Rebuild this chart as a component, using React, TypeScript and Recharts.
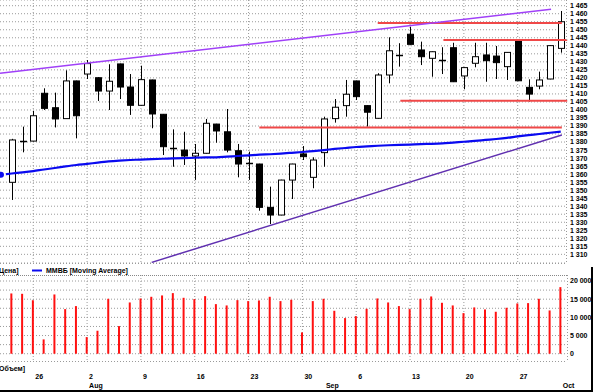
import React from 'react';
import { ComposedChart, Bar, Line, XAxis, YAxis, CartesianGrid, ReferenceLine } from 'recharts';

// Trading days Jul 22 .. Oct 1 (index 0..51)
const opens = [1354.9, 1380.4, 1380.6, 1410.4, 1401.4, 1394.6, 1418.1, 1422.4, 1420.1, 1411.8, 1428.7, 1414.3, 1402.9, 1418.7, 1397.3, 1376.0, 1375.0, 1371.3, 1373.0, 1391.2, 1386.4, 1374.6, 1366.8, 1366.3, 1339.3, 1334.5, 1356.3, 1372.6, 1358.0, 1373.4, 1394.6, 1402.7, 1418.1, 1402.7, 1394.8, 1421.8, 1434.0, 1447.2, 1437.4, 1432.2, 1431.0, 1438.8, 1421.2, 1429.1, 1434.3, 1433.6, 1427.0, 1443.2, 1414.1, 1414.9, 1419.3, 1438.4];
const highs = [1382.0, 1389.6, 1399.4, 1413.5, 1410.8, 1424.7, 1418.3, 1431.1, 1420.5, 1428.5, 1428.9, 1422.4, 1427.6, 1418.9, 1397.5, 1387.9, 1386.4, 1378.8, 1394.4, 1391.4, 1400.6, 1378.8, 1374.0, 1366.5, 1352.2, 1356.5, 1366.5, 1377.5, 1370.5, 1395.8, 1406.8, 1418.7, 1418.3, 1402.9, 1422.9, 1445.3, 1441.6, 1451.9, 1442.6, 1436.5, 1439.1, 1441.9, 1426.6, 1441.9, 1441.9, 1439.9, 1436.1, 1444.0, 1419.1, 1423.9, 1440.3, 1461.7];
const lows = [1343.9, 1373.6, 1380.4, 1400.0, 1389.1, 1394.4, 1382.3, 1419.3, 1405.6, 1400.0, 1406.8, 1396.9, 1402.7, 1388.6, 1371.9, 1364.6, 1365.7, 1356.4, 1372.8, 1379.6, 1373.6, 1358.0, 1356.4, 1337.2, 1328.9, 1334.3, 1344.5, 1368.8, 1351.2, 1364.6, 1392.1, 1395.8, 1406.2, 1389.6, 1394.6, 1416.6, 1427.0, 1440.7, 1428.0, 1420.7, 1422.4, 1417.4, 1412.9, 1426.6, 1417.6, 1419.3, 1418.7, 1418.0, 1405.2, 1412.9, 1419.1, 1435.7];
const closes = [1381.3, 1381.0, 1396.4, 1401.0, 1394.4, 1418.1, 1396.4, 1428.9, 1411.8, 1417.9, 1414.3, 1402.9, 1418.9, 1397.5, 1377.1, 1376.3, 1371.3, 1373.0, 1391.7, 1386.9, 1375.0, 1366.3, 1366.6, 1339.3, 1334.5, 1356.3, 1366.3, 1370.9, 1368.8, 1394.4, 1401.7, 1409.8, 1408.3, 1398.6, 1421.8, 1436.9, 1434.5, 1440.9, 1433.2, 1436.3, 1431.3, 1417.6, 1426.4, 1433.2, 1430.7, 1429.5, 1435.9, 1418.2, 1409.9, 1418.7, 1440.1, 1455.0];
const volumes = [16575, 16480, 14740, 3940, 16300, 12270, 13100, 4580, 6320, 15110, 7600, 14100, 15200, 15660, 16030, 16670, 15380, 15020, 15840, 13640, 13280, 14740, 14470, 14650, 15660, 14470, 14840, 5860, 14470, 15110, 11810, 9800, 10350, 12360, 15200, 14100, 13100, 12270, 15110, 15750, 14010, 13280, 11170, 12730, 12180, 11540, 12640, 13830, 13920, 15110, 11900, 18315];
// moving average, index -1 .. 51
const maStart = -1;
const maValues = [1359.6, 1360.4, 1361.1, 1361.9, 1362.9, 1363.8, 1364.8, 1365.7, 1366.4, 1367.2, 1367.9, 1368.4, 1368.8, 1369.1, 1369.4, 1369.6, 1369.8, 1370.0, 1370.2, 1370.4, 1370.5, 1370.9, 1371.3, 1371.7, 1372.1, 1372.4, 1372.8, 1373.3, 1373.8, 1374.4, 1375.0, 1375.7, 1376.3, 1376.9, 1377.3, 1377.7, 1378.0, 1378.2, 1378.4, 1378.7, 1378.9, 1379.2, 1379.7, 1380.2, 1380.7, 1381.3, 1381.9, 1382.6, 1383.5, 1384.3, 1385.0, 1385.8, 1386.5];

const mondayIdx = [2, 7, 12, 17, 22, 27, 32, 37, 42, 47];
const dayLabels = ['26', '2', '9', '16', '23', '30', '6', '13', '20', '27'];
const monthIdx = [7, 29, 51];
const monthLabels = ['Aug', 'Sep', 'Oct'];
const xDomain = [-1.09, 51.58];

const priceTicks = [1310, 1315, 1320, 1325, 1330, 1335, 1340, 1345, 1350, 1355, 1360, 1365, 1370, 1375, 1380, 1385, 1390, 1395, 1400, 1405, 1410, 1415, 1420, 1425, 1430, 1435, 1440, 1445, 1450, 1455, 1460, 1465];
const priceDomain = [1304.6, 1468.55];
const volumeTicks = [0, 5000, 10000, 15000, 20000];
const volumeGrid = [0, 2500, 5000, 7500, 10000, 12500, 15000, 17500, 20000];
const volumeDomain = [-2000, 21650];

const upperTrend = [{ x: -1.09, y: 1422.9 }, { x: 50.1, y: 1462.75 }];
const lowerTrend = [{ x: 13.0, y: 1305.0 }, { x: 51.1, y: 1384.4 }];
const levelFrom = [34.0, 40.1, 36.1, 23.0];
const levelTo = [51.1, 51.6, 51.6, 51.1];
const levelValues = [1454.2, 1443.6, 1405.8, 1389.0];

const priceData = maValues.map((ma, k) => {
  const i = k + maStart;
  const row: any = { i, ma };
  if (i >= 0) {
    row.range = [lows[i], highs[i]];
    row.open = opens[i];
    row.high = highs[i];
    row.low = lows[i];
    row.close = closes[i];
  }
  return row;
});
const volumeData = volumes.map((v, i) => ({ i, vol: v }));

const FONT = 'Liberation Sans, Arial, sans-serif';

const Candle = (props: any) => {
  const { x, y, width, height, payload } = props;
  if (!payload || payload.open == null || x == null || isNaN(y)) return <g />;
  const top = Math.min(y, y + height);
  const bot = Math.max(y, y + height);
  const span = payload.high - payload.low;
  const ppu = span > 0 ? (bot - top) / span : 0;
  const py = (v: number) => top + (payload.high - v) * ppu;
  const cx = Math.round(x + width / 2) + 0.5;
  const up = payload.close >= payload.open;
  const bTop = py(Math.max(payload.open, payload.close));
  const bBot = py(Math.min(payload.open, payload.close));
  return (
    <g>
      <line x1={cx} x2={cx} y1={top} y2={bot} stroke="#000" strokeWidth={1} />
      {bBot - bTop < 1.5 ? (
        <line x1={cx - 3.5} x2={cx + 3.5} y1={Math.round((bTop + bBot) / 2) + 0.5} y2={Math.round((bTop + bBot) / 2) + 0.5} stroke="#000" strokeWidth={1.5} />
      ) : (
        <rect x={cx - 3} y={bTop} width={6} height={bBot - bTop} fill={up ? '#fff' : '#000'} stroke="#000" strokeWidth={1} />
      )}
    </g>
  );
};

const fmtNum = (v: number) => (v >= 1000 ? `${Math.floor(v / 1000)} ${String(v % 1000).padStart(3, '0')}` : String(v));

const ValueTick = (props: any) => {
  const { x, y, payload } = props;
  return (
    <text x={x} y={y} dy="0.35em" textAnchor="start" fontSize={7} fontWeight="bold" fontFamily={FONT} fill="#000">
      {fmtNum(payload.value)}
    </text>
  );
};

const DateTick = (props: any) => {
  const { x, y, payload } = props;
  const v = payload.value;
  const d = mondayIdx.indexOf(v);
  const m = monthIdx.indexOf(v);
  return (
    <g>
      {d >= 0 && (
        <text x={x + 2} y={y + 18} fontSize={7} fontWeight="bold" fontFamily={FONT} fill="#000">{dayLabels[d]}</text>
      )}
      {m >= 0 && (
        <text x={x + 2} y={y + 27} fontSize={7} fontWeight="bold" fontFamily={FONT} fill="#000">{monthLabels[m]}</text>
      )}
    </g>
  );
};

const gridColor = '#9a9a9a';

export default function App() {
  const labelTicks = [...mondayIdx, ...monthIdx].filter((v, k, a) => a.indexOf(v) === k).sort((a, b) => a - b);
  return (
    <div style={{ position: 'absolute', left: 0, top: 0, width: 593, height: 392, background: '#fff', overflow: 'hidden', fontFamily: FONT }}>
      <div style={{ position: 'absolute', left: 0, top: 0 }}>
        <ComposedChart width={593} height={263} data={priceData} margin={{ top: 0, right: 0, bottom: 0, left: 0 }}>
          <CartesianGrid stroke={gridColor} strokeDasharray="1 2" verticalValues={mondayIdx} />
          <XAxis dataKey="i" type="number" domain={xDomain} allowDataOverflow hide ticks={mondayIdx} />
          <YAxis orientation="right" type="number" width={26} domain={priceDomain} allowDataOverflow ticks={priceTicks} interval={0}
            axisLine={false} tickLine={false} tickSize={1} tickMargin={2} tick={<ValueTick />} />
          {levelValues.map((v, k) => (
            <ReferenceLine key={'lv' + k} segment={[{ x: levelFrom[k], y: v }, { x: levelTo[k], y: v }]} stroke="#f04848" strokeWidth={2} ifOverflow="visible" />
          ))}
          <ReferenceLine segment={upperTrend} stroke="#a040f8" strokeWidth={1.5} ifOverflow="visible" />
          <ReferenceLine segment={lowerTrend} stroke="#6030b0" strokeWidth={1.5} ifOverflow="visible" />
          <Line dataKey="ma" type="monotone" stroke="#0a0af0" strokeWidth={2.2} dot={false} isAnimationActive={false} connectNulls />
          <Bar dataKey="range" barSize={7} shape={Candle} isAnimationActive={false} />
        </ComposedChart>
      </div>
      <div style={{ position: 'absolute', left: 0, top: 275 }}>
        <ComposedChart width={593} height={117} data={volumeData} margin={{ top: 0, right: 0, bottom: 0, left: 0 }}>
          <CartesianGrid stroke={gridColor} strokeDasharray="1 2" verticalValues={mondayIdx} horizontalValues={volumeGrid} />
          <XAxis dataKey="i" type="number" domain={xDomain} allowDataOverflow ticks={labelTicks} interval={0} height={31}
            axisLine={false} tickLine={false} tickSize={0} tickMargin={0} tick={<DateTick />} />
          <YAxis orientation="right" type="number" width={26} domain={volumeDomain} allowDataOverflow ticks={volumeTicks} interval={0}
            axisLine={false} tickLine={false} tickSize={1} tickMargin={2} tick={<ValueTick />} />
          <Bar dataKey="vol" barSize={2} fill="#ff1010" isAnimationActive={false} />
        </ComposedChart>
      </div>
      <svg style={{ position: 'absolute', left: 0, top: 0, pointerEvents: 'none' }} width={593} height={392}>
        <line x1={566.5} x2={566.5} y1={0} y2={263} stroke={gridColor} strokeDasharray="1 2" />
        <line x1={0} x2={567} y1={263.5} y2={263.5} stroke={gridColor} strokeDasharray="1 2" />
        <text x={-1} y={273} fontSize={7} fontWeight="bold" fontFamily={FONT} fill="#000">Цена]</text>
        <line x1={32} x2={42} y1={270.5} y2={270.5} stroke="#0a0af0" strokeWidth={2} />
        <text x={46} y={273} fontSize={7} fontWeight="bold" fontFamily={FONT} fill="#000">ММВБ [Moving Average]</text>
        <line x1={0} x2={567} y1={275.5} y2={275.5} stroke="#888" strokeDasharray="1 1" />
        <line x1={567.5} x2={567.5} y1={275} y2={361} stroke={gridColor} strokeDasharray="1 2" />
        <line x1={0} x2={567} y1={361.5} y2={361.5} stroke={gridColor} strokeDasharray="1 2" />
        <text x={-1} y={371} fontSize={7} fontWeight="bold" fontFamily={FONT} fill="#000">Объем]</text>
        <rect x={0} y={390} width={593} height={2} fill="#000" />
        <rect x={591} y={267} width={2} height={125} fill="#000" />
      </svg>
    </div>
  );
}
